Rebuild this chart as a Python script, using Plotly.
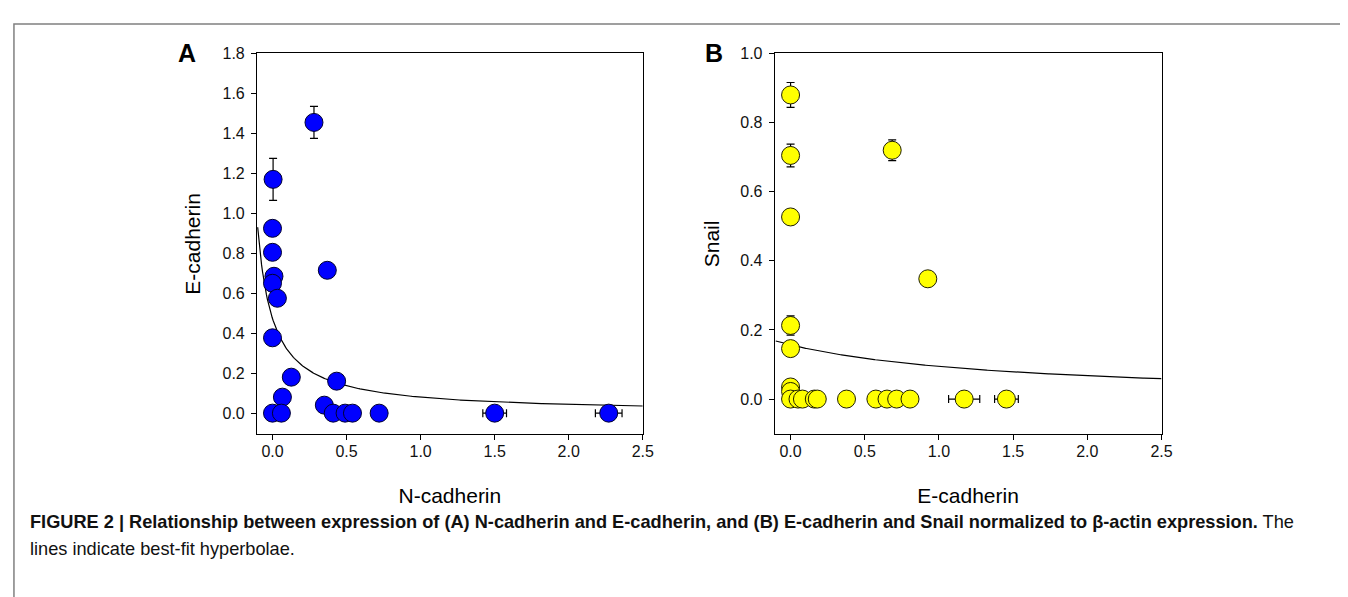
import numpy as np
import plotly.graph_objects as go

# ---------------- Data ----------------
# Panel A: N-cadherin (x) vs E-cadherin (y)
a_ncad = [0.28, 0.004, 0.0, 0.0, 0.01, 0.0, 0.033, 0.0, 0.37, 0.127, 0.433,
          0.067, 0.35, 0.0, 0.06, 0.41, 0.49, 0.54, 0.72, 1.50, 2.27]
a_ecad = [1.455, 1.17, 0.925, 0.805, 0.685, 0.65, 0.575, 0.377, 0.715, 0.18, 0.16,
          0.08, 0.04, 0.0, 0.0, 0.0, 0.0, 0.0, 0.0, 0.0, 0.0]
a_ecad_err = [0.08, 0.105, 0, 0, 0.02, 0.02, 0, 0, 0, 0, 0,
              0, 0, 0, 0, 0, 0, 0, 0, 0, 0]
a_ncad_err = [0, 0, 0, 0, 0, 0, 0, 0, 0, 0, 0,
              0, 0, 0, 0, 0, 0, 0, 0, 0.08, 0.09]

# Panel B: E-cadherin (x) vs Snail (y)
b_ecad = [0.0, 0.0, 0.0, 0.0, 0.0, 0.0, 0.0, 0.0, 0.05, 0.08, 0.16,
          0.18, 0.377, 0.575, 0.65, 0.715, 0.805, 0.685, 0.925, 1.17, 1.455]
b_snail = [0.88, 0.705, 0.527, 0.213, 0.146, 0.035, 0.022, 0.0, 0.0, 0.0, 0.0,
           0.0, 0.0, 0.0, 0.0, 0.0, 0.0, 0.72, 0.348, 0.0, 0.0]
b_snail_err = [0.036, 0.033, 0.02, 0.028, 0.02, 0.01, 0, 0, 0, 0, 0,
               0, 0, 0, 0, 0, 0, 0.03, 0, 0, 0]
b_ecad_err = [0, 0, 0, 0, 0, 0, 0, 0, 0, 0, 0,
              0, 0, 0, 0, 0, 0, 0, 0, 0.105, 0.08]

# Best-fit hyperbolae y = p / (q + x)
fit_a = (0.0963, 0.2035)
fit_b = (0.2364, 1.507)

x_ticks = [0.0, 0.5, 1.0, 1.5, 2.0, 2.5]
a_y_ticks = [0.0, 0.2, 0.4, 0.6, 0.8, 1.0, 1.2, 1.4, 1.6, 1.8]
b_y_ticks = [0.0, 0.2, 0.4, 0.6, 0.8, 1.0]

caption_bold = ("FIGURE 2 | Relationship between expression of (A) N-cadherin and "
                "E-cadherin, and (B) E-cadherin and Snail normalized to \u03b2-actin expression.")
caption_rest = " The"
caption_line2 = "lines indicate best-fit hyperbolae."

# ---------------- Figure ----------------
W, H = 1348, 597
FONT = "Arial, Liberation Sans, Helvetica, sans-serif"

def px(x):
    return x / W

def py(y):
    return 1 - y / H

fig = go.Figure()

# Fit curves
xa = np.linspace(-0.1, 2.5, 400)
fig.add_trace(go.Scatter(x=xa, y=fit_a[0] / (fit_a[1] + xa), mode="lines",
                         line=dict(color="black", width=1.2),
                         xaxis="x", yaxis="y", showlegend=False, hoverinfo="skip"))
xb = np.linspace(-0.1, 2.5, 400)
fig.add_trace(go.Scatter(x=xb, y=fit_b[0] / (fit_b[1] + xb), mode="lines",
                         line=dict(color="black", width=1.2),
                         xaxis="x2", yaxis="y2", showlegend=False, hoverinfo="skip"))

err_style = dict(type="data", color="black", thickness=1.2, width=4, visible=True)

fig.add_trace(go.Scatter(
    x=a_ncad, y=a_ecad, mode="markers",
    marker=dict(size=18, color="#0000ff", line=dict(color="#000030", width=1)),
    error_y=dict(array=a_ecad_err, **err_style),
    error_x=dict(array=a_ncad_err, **err_style),
    xaxis="x", yaxis="y", showlegend=False))

fig.add_trace(go.Scatter(
    x=b_ecad, y=b_snail, mode="markers",
    marker=dict(size=18, color="#ffff00", line=dict(color="#202000", width=1)),
    error_y=dict(array=b_snail_err, **err_style),
    error_x=dict(array=b_ecad_err, **err_style),
    xaxis="x2", yaxis="y2", showlegend=False))

axis_common = dict(showline=True, linecolor="black", linewidth=1, mirror=True,
                   ticks="outside", ticklen=5, tickwidth=1, tickcolor="black",
                   showgrid=False, zeroline=False, tickformat=".1f",
                   tickfont=dict(family=FONT, size=16, color="#111"))

a_top, a_bot = 38, 424
fig.update_layout(
    width=W, height=H,
    margin=dict(l=0, r=0, t=0, b=0),
    paper_bgcolor="white", plot_bgcolor="white",
    font=dict(family=FONT, color="black"),
    xaxis=dict(domain=[px(251), px(640)], range=[-0.105, 2.5], tickvals=x_ticks,
               anchor="y", ticklabelstandoff=-3,
               title=dict(text="N-cadherin", font=dict(size=21, family=FONT), standoff=29),
               **axis_common),
    yaxis=dict(domain=[py(a_bot), py(a_top)], range=[-0.106, 1.8], tickvals=a_y_ticks,
               anchor="x", ticklabelstandoff=3,
               title=dict(text="E-cadherin", font=dict(size=21, family=FONT), standoff=16),
               **axis_common),
    xaxis2=dict(domain=[px(773), px(1163)], range=[-0.107, 2.5], tickvals=x_ticks,
                anchor="y2", ticklabelstandoff=-3,
                title=dict(text="E-cadherin", font=dict(size=21, family=FONT), standoff=29),
                **axis_common),
    yaxis2=dict(domain=[py(a_bot), py(a_top)], range=[-0.102, 1.0], tickvals=b_y_ticks,
                anchor="x2", ticklabelstandoff=3,
                title=dict(text="Snail", font=dict(size=21, family=FONT), standoff=14),
                **axis_common),
)

# Outer border
fig.add_shape(type="rect", xref="paper", yref="paper",
              x0=px(6), x1=px(1345), y0=py(590), y1=py(8),
              line=dict(color="#808080", width=1.5), fillcolor="rgba(0,0,0,0)")

# Panel letters
fig.add_annotation(text="<b>A</b>", xref="paper", yref="paper", x=px(180), y=py(37),
                   xanchor="center", yanchor="middle", showarrow=False,
                   font=dict(size=25, family=FONT, color="black"))
fig.add_annotation(text="<b>B</b>", xref="paper", yref="paper", x=px(712), y=py(37),
                   xanchor="center", yanchor="middle", showarrow=False,
                   font=dict(size=25, family=FONT, color="black"))

# Caption
fig.add_annotation(text="<b>" + caption_bold + "</b>" + caption_rest,
                   xref="paper", yref="paper", x=px(20), y=py(513),
                   xanchor="left", yanchor="middle", showarrow=False,
                   font=dict(size=18.2, family=FONT, color="#111"))
fig.add_annotation(text=caption_line2,
                   xref="paper", yref="paper", x=px(20), y=py(540),
                   xanchor="left", yanchor="middle", showarrow=False,
                   font=dict(size=18.2, family=FONT, color="#111"))

fig.write_html("out.html")
